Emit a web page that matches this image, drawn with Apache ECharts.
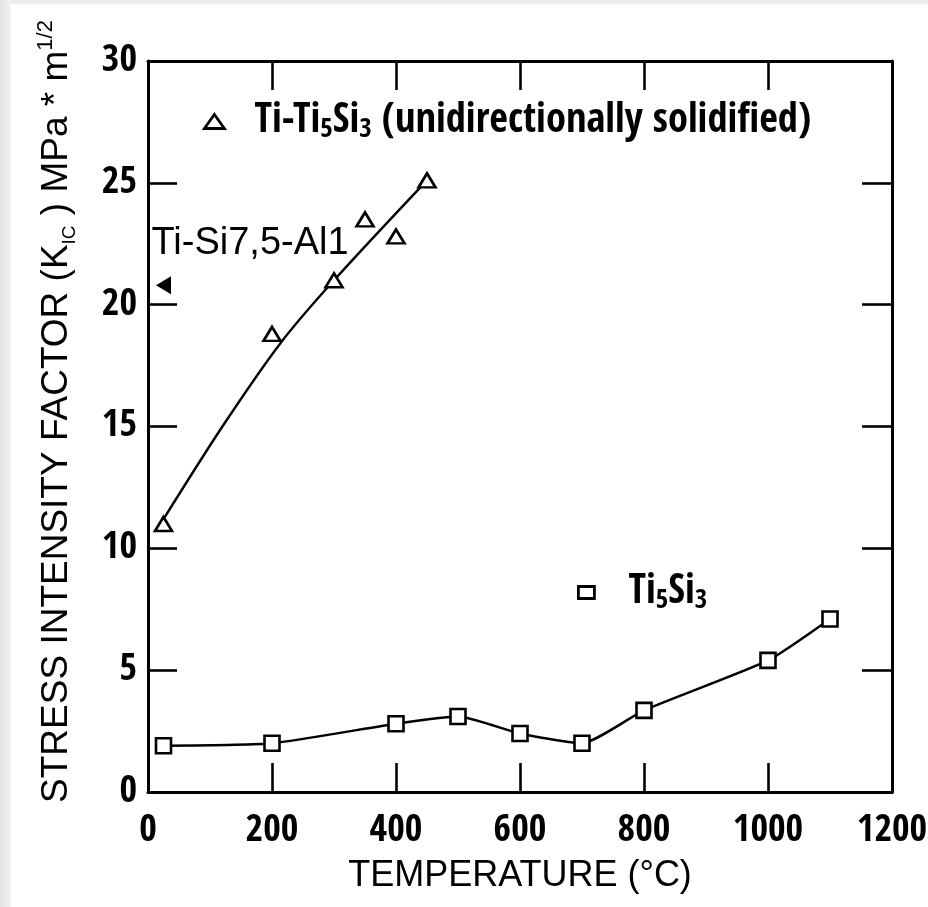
<!DOCTYPE html>
<html><head><meta charset="utf-8">
<script src="https://cdn.jsdelivr.net/npm/echarts@6/dist/echarts.min.js"></script>
<style>
html,body{margin:0;padding:0;width:928px;height:907px;overflow:hidden;background:#ececec;}
#band{position:absolute;left:0;top:0;width:11px;height:907px;background:linear-gradient(to right,#e2e2e2,#f2f2f2);}
#chart{position:absolute;left:11px;top:4px;width:917px;height:903px;background:#fff;}
</style></head><body><div id="band"></div><div id="chart"></div>
<script>
// ---- data ----
const xMin = 0, xMax = 1200, xStep = 200;
const yMin = 0, yMax = 30, yStep = 5;

const triTemp = [25, 200, 300, 350, 400, 450];
const triK    = [11.0, 18.8, 21.0, 23.5, 22.8, 25.1];

const triFitTemp = [25, 120, 213, 300, 450];
const triFitK    = [11.2, 15.0, 18.4, 21.0, 25.1];

const sqTemp = [25, 200, 400, 500, 600, 700, 800, 1000, 1100];
const sqK    = [1.9, 2.0, 2.8, 3.1, 2.4, 2.0, 3.35, 5.4, 7.1];

const alloyTemp = [25];
const alloyK    = [20.8];

const nameTri = 'Ti-Ti5Si3 (unidirectionally solidified)';
const nameSq = 'Ti5Si3';
const nameAlloy = 'Ti-Si7,5-Al1';

const COND = '"Open Sans Condensed", "Roboto Condensed", "DejaVu Sans Condensed", sans-serif';
const ARIAL = '"Liberation Sans", Arial, sans-serif';

const pairs = (xs, ys) => xs.map((x, i) => [x, ys[i]]);

const chart = echarts.init(document.getElementById('chart'), null, {renderer: 'canvas'});

const legendRich = {
  p1: {width: 25},
  p2: {width: 29},
  b: {fontFamily: COND, fontWeight: 'bold', fontSize: 40.5, lineHeight: 44, color: '#000'},
  s: {fontFamily: COND, fontWeight: 'bold', fontSize: 27, lineHeight: 22, verticalAlign: 'bottom', color: '#000'}
};
const markerStyle = {color: '#fff', borderColor: '#000', borderWidth: 2.6, opacity: 1};

const axisLineStyle = {color: '#000', width: 3};
const tickStyle = {color: '#000', width: 2.6};

const option = {
  animation: false,
  backgroundColor: '#fff',
  grid: {left: 137, top: 57, right: 36, bottom: 115, containLabel: false, outerBoundsMode: 'none'},
  legend: [
    {
      left: 192, top: 97, padding: 0, selectedMode: false,
      itemWidth: 20, itemHeight: 14,
      data: [{name: nameTri, icon: 'triangle'}],
      itemStyle: {color: '#fff', borderColor: '#000', borderWidth: 2.8},
      formatter: () => '{p1|}{b|Ti-Ti}{s|5}{b|Si}{s|3}{b| (unidirectionally solidified)}',
      textStyle: {rich: legendRich}
    },
    {
      left: 566, top: 568, padding: 0, selectedMode: false,
      itemWidth: 16, itemHeight: 12,
      data: [{name: nameSq, icon: 'rect'}],
      itemStyle: {color: '#fff', borderColor: '#000', borderWidth: 2.8},
      formatter: () => '{p2|}{b|Ti}{s|5}{b|Si}{s|3}',
      textStyle: {rich: legendRich}
    }
  ],
  xAxis: [
    {
      type: 'value', min: xMin, max: xMax, interval: xStep, position: 'bottom',
      name: 'TEMPERATURE (°C)', nameLocation: 'middle', nameGap: 66,
      nameTextStyle: {fontFamily: ARIAL, fontSize: 36, color: '#000'},
      axisLine: {show: true, onZero: false, lineStyle: axisLineStyle},
      axisTick: {show: true, inside: true, length: 29, lineStyle: tickStyle},
      axisLabel: {show: true, margin: 20, formatter: v => String(v), fontFamily: COND, fontWeight: 'bold', fontSize: 38, color: '#000'},
      splitLine: {show: false}
    },
    {
      type: 'value', min: xMin, max: xMax, interval: xStep, position: 'top',
      axisLine: {show: true, onZero: false, lineStyle: axisLineStyle},
      axisTick: {show: true, inside: true, length: 29, lineStyle: tickStyle},
      axisLabel: {show: false}, splitLine: {show: false}
    }
  ],
  yAxis: [
    {
      type: 'value', min: yMin, max: yMax, interval: yStep, position: 'left',
      name: '{pad|}{n|STRESS INTENSITY FACTOR (K}{sub|IC}{n| ) MPa * m}{sup|1/2}',
      nameLocation: 'middle', nameRotate: 90, nameGap: 69,
      nameTextStyle: {
        color: '#000',
        rich: {
          pad: {width: 30},
          n: {fontFamily: ARIAL, fontSize: 37, lineHeight: 44, color: '#000'},
          sub: {fontFamily: ARIAL, fontSize: 19, lineHeight: 20, verticalAlign: 'bottom', color: '#000'},
          sup: {fontFamily: ARIAL, fontSize: 22, lineHeight: 22, verticalAlign: 'top', color: '#000'}
        }
      },
      axisLine: {show: true, onZero: false, lineStyle: axisLineStyle},
      axisTick: {show: true, inside: true, length: 29, lineStyle: tickStyle},
      axisLabel: {show: true, margin: 11, fontFamily: COND, fontWeight: 'bold', fontSize: 38, color: '#000'},
      splitLine: {show: false}
    },
    {
      type: 'value', min: yMin, max: yMax, interval: yStep, position: 'right',
      axisLine: {show: true, onZero: false, lineStyle: axisLineStyle},
      axisTick: {show: true, inside: true, length: 30, lineStyle: tickStyle},
      axisLabel: {show: false}, splitLine: {show: false}
    }
  ],
  series: [
    {
      name: 'Ti-Ti5Si3 fit', type: 'line', smooth: 0.3, showSymbol: false, z: 2,
      data: pairs(triFitTemp, triFitK),
      lineStyle: {color: '#000', width: 2.4, opacity: 1}, silent: true
    },
    {
      name: nameTri, type: 'scatter', symbol: 'triangle', symbolSize: [17, 14], z: 3,
      data: pairs(triTemp, triK),
      itemStyle: markerStyle
    },
    {
      name: nameSq, type: 'line', smooth: 0.18, symbol: 'rect', symbolSize: 15, showAllSymbol: true, z: 3,
      data: pairs(sqTemp, sqK),
      lineStyle: {color: '#000', width: 2.4, opacity: 1},
      itemStyle: markerStyle
    },
    {
      name: nameAlloy, type: 'scatter', symbol: 'triangle', symbolSize: [18, 15], symbolRotate: 90, z: 3,
      data: pairs(alloyTemp, alloyK),
      itemStyle: {color: '#000', opacity: 1},
      label: {
        show: true, formatter: nameAlloy, position: 'top', align: 'left', distance: 0,
        offset: [-12, -14], opacity: 1,
        fontFamily: ARIAL, fontSize: 38, color: '#000'
      }
    }
  ]
};
chart.setOption(option);
</script></body></html>
